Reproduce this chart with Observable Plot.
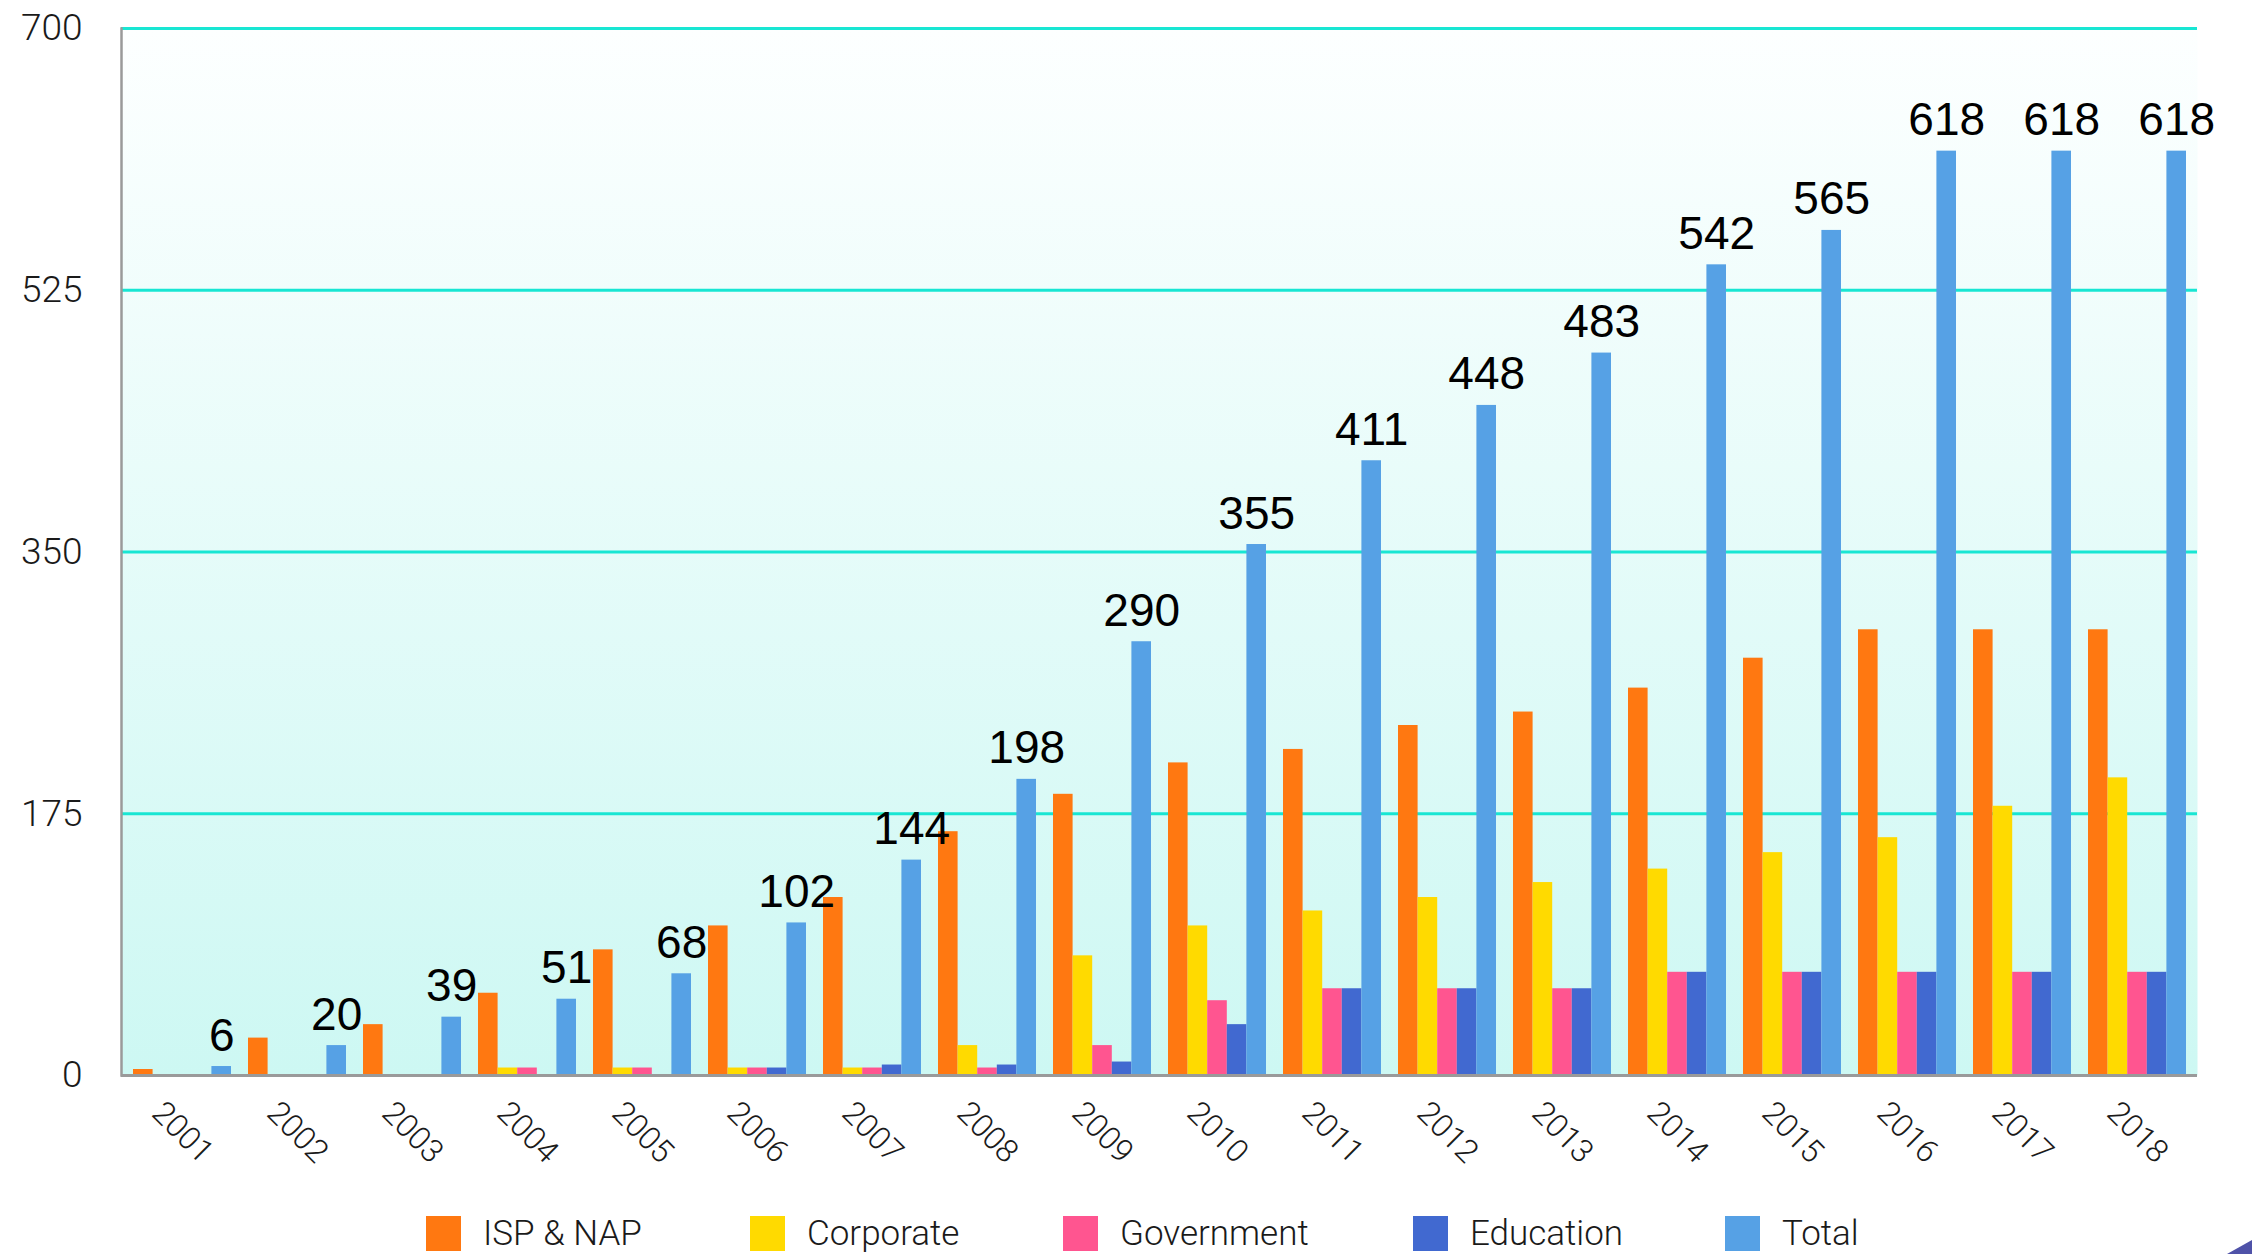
<!DOCTYPE html>
<html>
<head>
<meta charset="utf-8">
<script src="https://cdn.jsdelivr.net/npm/d3@7"></script>
<script src="https://cdn.jsdelivr.net/npm/@observablehq/plot@0.6"></script>
<style>
  html, body { margin: 0; padding: 0; background: #fff; overflow: hidden; width: 2252px; height: 1254px; }
  body { position: relative; }
  #legend { position: relative; height: 54px; width: 2252px; font-family: Roboto, "Open Sans", Lato, sans-serif; font-weight: 300; font-size: 35px; color: #1a1a1a; }
  .sw { position: absolute; top: 16px; width: 35px; height: 35px; }
  .lt { position: absolute; top: 33px; transform: translateY(-50%); line-height: 1; white-space: nowrap; }
  #corner { position: absolute; left: 2200px; top: 1220px; }
</style>
</head>
<body>
<div id="chart"></div>
<div id="legend"></div>
<svg id="corner" width="52" height="34" viewBox="0 0 52 34"><polygon points="27,34 52,20 52,34" fill="#4f52a8"></polygon></svg>
<script>
// ---- data ----
const years = [2001, 2002, 2003, 2004, 2005, 2006, 2007, 2008, 2009, 2010, 2011, 2012, 2013, 2014, 2015, 2016, 2017, 2018];
const seriesNames = ["ISP & NAP", "Corporate", "Government", "Education", "Total"];
const ispNap     = [4, 25, 34, 55, 84, 100, 119, 163, 188, 209, 218, 234, 243, 259, 279, 298, 298, 298];
const corporate  = [0, 0, 0, 5, 5, 5, 5, 20, 80, 100, 110, 119, 129, 138, 149, 159, 180, 199];
const government = [0, 0, 0, 5, 5, 5, 5, 5, 20, 50, 58, 58, 58, 69, 69, 69, 69, 69];
const education  = [0, 0, 0, 0, 0, 5, 7, 7, 9, 34, 58, 58, 58, 69, 69, 69, 69, 69];
const total      = [6, 20, 39, 51, 68, 102, 144, 198, 290, 355, 411, 448, 483, 542, 565, 618, 618, 618];
const yTicks = [0, 175, 350, 525, 700];
const colors = ["#ff7811", "#ffda00", "#ff5590", "#4169d0", "#56a1e5"];

const seriesValues = [ispNap, corporate, government, education, total];
const rows = seriesNames.map((s, i) => years.map((y, j) => ({series: s, year: y, value: seriesValues[i][j]})));

// ---- layout ----
const W = 2252, H = 1200;
const mL = 121, mR = 55, mT = 28, mB = 125;
const pInner = 0.15, pOuter = 0.078;
const step = (W - mL - mR) / (years.length - pInner + 2 * pOuter);
const bw = step * (1 - pInner);
const w = bw / 5;
const lightFont = "Roboto, 'Open Sans', Lato, sans-serif";

const marks = [
  Plot.frame({fill: "url(#bgGrad)"}),
  Plot.ruleY(yTicks.filter(t => t > 0), {stroke: "#18e6d3", strokeWidth: 3}),
  ...rows.map((data, i) => Plot.barY(data, {
    x: "year", y: "value", fill: colors[i],
    insetLeft: i * w, insetRight: (4 - i) * w
  })),
  Plot.ruleY([0], {stroke: "#9a9a9a", strokeWidth: 3}),
  Plot.frame({anchor: "left", stroke: "#9a9a9a", strokeWidth: 2.5}),
  Plot.axisY({ticks: yTicks, tickSize: 0, tickPadding: 39, fontSize: 37, fontWeight: 300, fontFamily: lightFont, fill: "#1a1a1a", label: null}),
  Plot.text(years, {x: d => d, text: d => String(d), frameAnchor: "bottom", dy: 57, rotate: 45,
    textAnchor: "middle", lineAnchor: "middle", fontSize: 32, fontWeight: 300, fontFamily: lightFont, fill: "#1a1a1a"}),
  Plot.text(rows[4], {x: "year", y: "value", text: d => String(d.value), dx: 2 * w, dy: -16,
    lineAnchor: "bottom", fontSize: 46, fontFamily: "'Liberation Sans', Arial, sans-serif", fill: "#000"})
];

const chart = Plot.plot({
  width: W, height: H,
  marginLeft: mL, marginRight: mR, marginTop: mT, marginBottom: mB,
  x: {type: "band", domain: years, paddingInner: pInner, paddingOuter: pOuter, axis: null},
  y: {domain: [0, 700], axis: null},
  style: {background: "#fff", overflow: "visible"},
  marks
});

// gradient definition for plot background
const svg = d3.select(chart);
const defs = svg.insert("defs", ":first-child");
const grad = defs.append("linearGradient").attr("id", "bgGrad").attr("x1", 0).attr("y1", 0).attr("x2", 0).attr("y2", 1);
grad.append("stop").attr("offset", "0%").attr("stop-color", "#fdffff");
grad.append("stop").attr("offset", "100%").attr("stop-color", "#cdf8f3");

document.getElementById("chart").appendChild(chart);

// ---- legend ----
const swLeft = [426, 750, 1063, 1413, 1725];
const legend = document.getElementById("legend");
seriesNames.forEach((s, i) => {
  const sw = document.createElement("div");
  sw.className = "sw"; sw.style.left = swLeft[i] + "px"; sw.style.background = colors[i];
  const t = document.createElement("div");
  t.className = "lt"; t.style.left = (swLeft[i] + 57) + "px"; t.textContent = s;
  legend.appendChild(sw); legend.appendChild(t);
});
</script>
</body>
</html>
